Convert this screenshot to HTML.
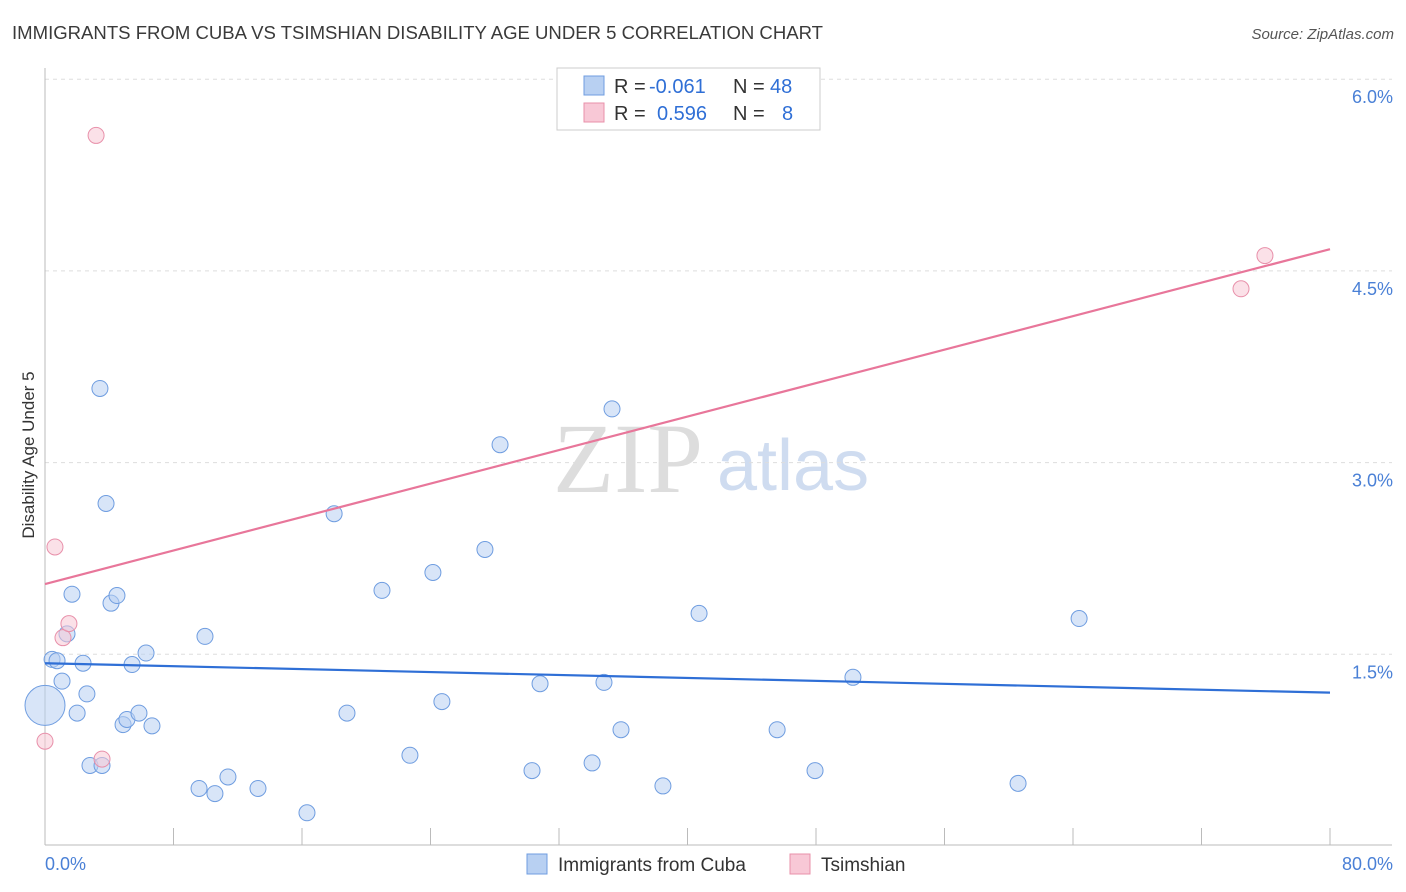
<!DOCTYPE html>
<html><head><meta charset="utf-8">
<style>
body{margin:0;background:#fff;font-family:"Liberation Sans",sans-serif;}
svg{display:block}
</style></head>
<body>
<svg id="chart" width="1406" height="892" xmlns="http://www.w3.org/2000/svg">
<text x="12" y="39" font-size="18" fill="#3a3a3a" textLength="811" lengthAdjust="spacingAndGlyphs">IMMIGRANTS FROM CUBA VS TSIMSHIAN DISABILITY AGE UNDER 5 CORRELATION CHART</text>
<text x="1394" y="39" font-size="15" fill="#555" font-style="italic" text-anchor="end">Source: ZipAtlas.com</text>
<text transform="translate(34,455) rotate(-90)" font-size="17" fill="#333" text-anchor="middle">Disability Age Under 5</text>
<text x="553" y="492" font-size="100" fill="#ddd" font-family="Liberation Serif,serif">ZIP</text>
<text x="717" y="490" font-size="72" fill="#cfdcf0">atlas</text>
<g id="grid"></g>
<g id="axes"></g>
<g id="marks"></g>
<g>
<rect x="557" y="68" width="263" height="62" fill="#fff" stroke="#ccc"/>
<rect x="584" y="76" width="20" height="19" fill="#b8d0f2" stroke="#6f9de0"/>
<rect x="584" y="103" width="20" height="19" fill="#f8c8d6" stroke="#e890aa"/>
<text x="614" y="93" font-size="20" fill="#333">R =</text>
<text x="649" y="93" font-size="20" fill="#2f6fd6">-0.061</text>
<text x="733" y="93" font-size="20" fill="#333">N =</text>
<text x="770" y="93" font-size="20" fill="#2f6fd6">48</text>
<text x="614" y="120" font-size="20" fill="#333">R =</text>
<text x="657" y="120" font-size="20" fill="#2f6fd6">0.596</text>
<text x="733" y="120" font-size="20" fill="#333">N =</text>
<text x="782" y="120" font-size="20" fill="#2f6fd6">8</text>
</g>
<g>
<rect x="527" y="854" width="20" height="20" fill="#b8d0f2" stroke="#6f9de0"/>
<text x="558" y="871" font-size="19" fill="#333">Immigrants from Cuba</text>
<rect x="790" y="854" width="20" height="20" fill="#f8c8d6" stroke="#e890aa"/>
<text x="821" y="871" font-size="19" fill="#333">Tsimshian</text>
</g>
</svg>
<script>
const blueX=[0,0.44,0.75,1.06,1.37,1.68,2.0,2.37,2.61,2.8,3.42,3.55,3.8,4.11,4.48,4.86,5.1,5.42,5.85,6.29,6.66,9.59,9.96,10.58,11.39,13.26,16.31,18.0,18.8,20.98,22.72,24.15,24.71,27.39,28.33,30.32,30.82,34.06,34.8,35.3,35.86,38.47,40.72,45.58,47.94,50.3,60.58,64.38];
const blueY=[1.10,1.46,1.45,1.29,1.66,1.97,1.04,1.43,1.19,0.63,3.58,0.63,2.68,1.90,1.96,0.95,0.99,1.42,1.04,1.51,0.94,0.45,1.64,0.41,0.54,0.45,0.26,2.60,1.04,2.0,0.71,2.14,1.13,2.32,3.14,0.59,1.27,0.65,1.28,3.42,0.91,0.47,1.82,0.91,0.59,1.32,0.49,1.78];
const pinkX=[0,0.62,1.12,1.49,3.18,3.55,74.46,75.95];
const pinkY=[0.82,2.34,1.63,1.74,5.56,0.68,4.36,4.62];
const blueTrend=[1.43,1.20];
const pinkTrend=[2.05,4.67];
const yTicks=[1.5,3.0,4.5,6.0];
const yTickLabels=["1.5%","3.0%","4.5%","6.0%"];
const xTicks=[0,8,16,24,32,40,48,56,64,72,80];

const NS="http://www.w3.org/2000/svg";
const X0=45,X1=1330,Y0=846,PXPER=127.8;
function sx(v){return X0+(v/80)*(X1-X0);}
function sy(v){return Y0-v*PXPER;}
function mk(tag,attrs,parent){const e=document.createElementNS(NS,tag);for(const k in attrs)e.setAttribute(k,attrs[k]);document.getElementById(parent).appendChild(e);return e;}

yTicks.forEach((t,i)=>{
  const l=mk('line',{x1:45,x2:1392,y1:sy(t),y2:sy(t),stroke:'#ddd','stroke-dasharray':'4,4'},'grid');
  
  
  const tx=mk('text',{x:1393,y:sy(t)+24,'font-size':18,fill:'#4a80d6','text-anchor':'end'},'grid');
  tx.textContent=yTickLabels[i];
  
  
});
const ax=mk('line',{x1:45,x2:1392,y1:845,y2:845,stroke:'#bbb'},'axes');


const ay=mk('line',{x1:45,x2:45,y1:68,y2:845,stroke:'#bbb'},'axes');


xTicks.forEach(t=>{
  const l=mk('line',{x1:sx(t),x2:sx(t),y1:828,y2:845,stroke:'#bbb'},'axes');
  
  
});
const xl0=mk('text',{x:45,y:870,'font-size':18,fill:'#4a80d6'},'axes');
xl0.textContent='0.0%';


const xl1=mk('text',{x:1393,y:870,'font-size':18,fill:'#4a80d6','text-anchor':'end'},'axes');
xl1.textContent='80.0%';



blueX.forEach((x,i)=>{
  const c=mk('circle',{cx:sx(x),cy:sy(blueY[i]),r:i===0?20:8,fill:'rgba(184,208,242,0.55)',stroke:'#6f9de0','stroke-width':1},'marks');
  
  
});
pinkX.forEach((x,i)=>{
  const c=mk('circle',{cx:sx(x),cy:sy(pinkY[i]),r:8,fill:'rgba(248,200,214,0.55)',stroke:'#e890aa','stroke-width':1},'marks');
  
  
});
const bl=mk('line',{x1:sx(0),y1:sy(blueTrend[0]),x2:sx(80),y2:sy(blueTrend[1]),stroke:'#2f6fd6','stroke-width':2.2},'marks');


const pl=mk('line',{x1:sx(0),y1:sy(pinkTrend[0]),x2:sx(80),y2:sy(pinkTrend[1]),stroke:'#e8769a','stroke-width':2.2},'marks');


</script>
</body></html>
